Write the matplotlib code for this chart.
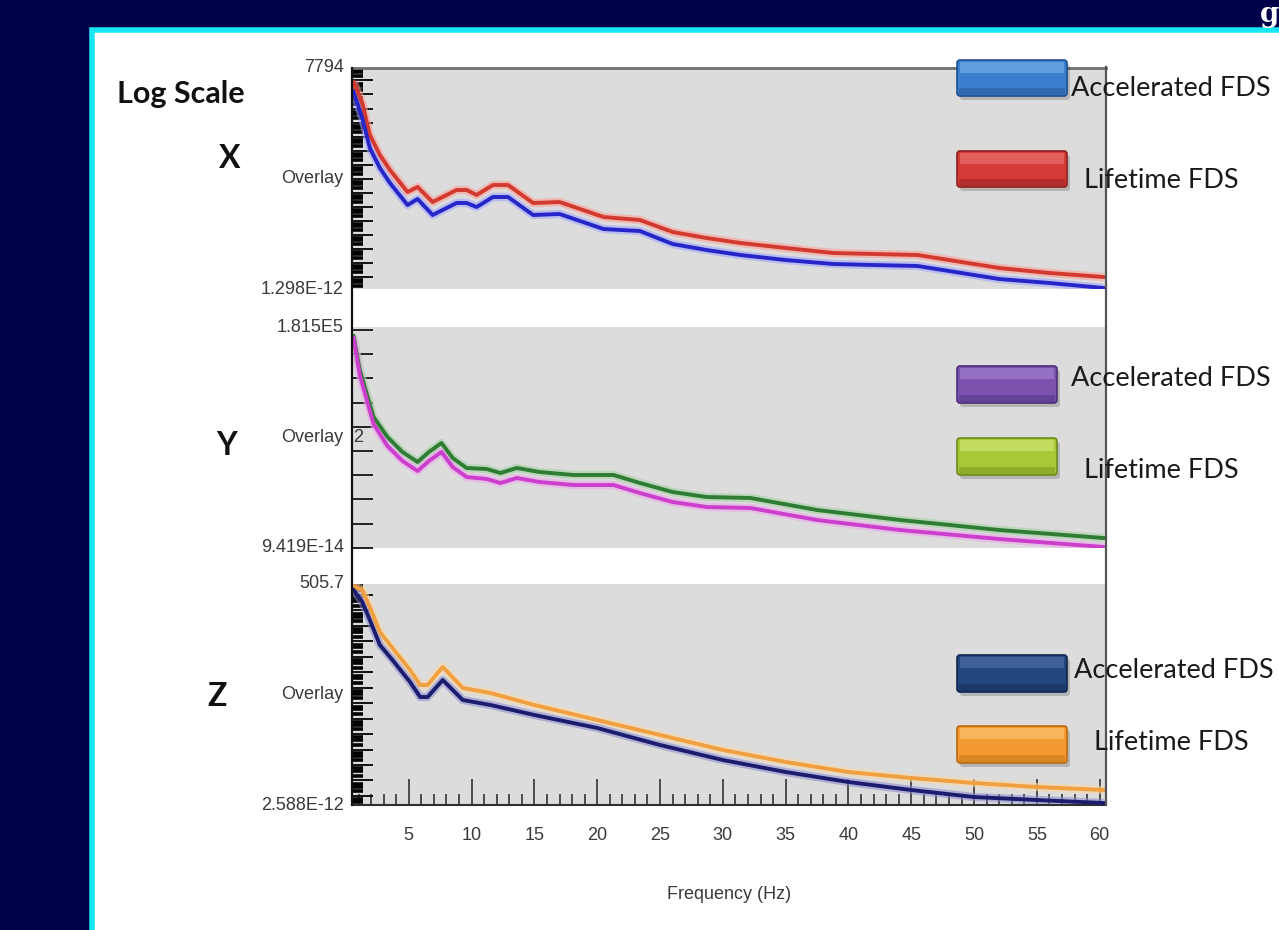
import numpy as np
import matplotlib
matplotlib.use("Agg")
import matplotlib.pyplot as plt
from matplotlib.patches import FancyBboxPatch, Rectangle
from matplotlib.lines import Line2D
from matplotlib.ticker import LogLocator, NullFormatter, MultipleLocator, FixedLocator, NullLocator

# ---------------- data ----------------
freq_x = [0.6, 1.3, 1.9, 2.7, 3.5, 4.9, 5.7, 6.9, 8.8, 9.6, 10.4, 11.7, 12.9, 14.9, 17.0,
          20.5, 23.4, 26.0, 28.7, 31.4, 35.0, 38.8, 42.0, 45.5, 52.0, 56.0, 60.3]
x_lifetime = [780, 24.7, 0.128, 4.79e-3, 4.06e-4, 1.09e-5, 2.48e-5, 2.11e-6, 1.52e-5, 1.52e-5,
              6.67e-6, 3.45e-5, 3.45e-5, 1.79e-6, 2.11e-6, 1.79e-7, 1.09e-7, 1.52e-8, 5.68e-9,
              2.49e-9, 1.10e-9, 4.82e-10, 4.09e-10, 3.47e-10, 4.09e-11, 1.80e-11, 9.31e-12]
x_accel = [150.7, 2.10, 1.51e-2, 5.65e-4, 4.80e-5, 1.29e-6, 3.46e-6, 2.49e-7, 1.79e-6, 1.79e-6,
           9.27e-7, 4.80e-6, 4.80e-6, 2.49e-7, 2.94e-7, 2.49e-8, 1.79e-8, 2.12e-9, 7.89e-10,
           3.47e-10, 1.52e-10, 7.91e-11, 6.70e-11, 5.69e-11, 6.71e-12, 3.48e-12, 1.53e-12]

freq_y = [0.6, 1.1, 2.2, 3.3, 4.5, 5.7, 6.6, 7.6, 8.5, 9.6, 11.2, 12.3, 13.6, 15.4, 18.1,
          21.3, 23.4, 26.0, 28.7, 32.2, 37.5, 44.1, 52.0, 60.3]
y_lifetime = [3.27e4, 50.2, 6.49e-3, 1.44e-4, 8.24e-6, 1.23e-6, 8.24e-6, 4.58e-5, 2.63e-6,
              3.92e-7, 3.24e-7, 1.51e-7, 3.92e-7, 1.83e-7, 1.03e-7, 1.03e-7, 2.25e-8, 4.05e-9,
              1.56e-9, 1.29e-9, 1.31e-10, 1.95e-11, 2.90e-12, 6.32e-13]
y_accel = [2.23e4, 19.4, 1.71e-3, 2.59e-5, 1.49e-6, 2.21e-7, 1.49e-6, 8.24e-6, 4.73e-7,
           7.05e-8, 4.82e-8, 2.25e-8, 5.82e-8, 2.72e-8, 1.53e-8, 1.53e-8, 3.34e-9, 6.01e-10,
           2.32e-10, 1.92e-10, 1.95e-11, 2.90e-12, 5.22e-13, 1.14e-13]

freq_z = [0.6, 1.3, 1.9, 2.7, 3.7, 5.1, 5.9, 6.5, 7.7, 9.3, 11.5, 15, 20, 25, 30, 35, 40,
          45, 50, 55, 60.3]
z_lifetime = [376, 207, 16.5, 0.398, 3.67e-2, 1.39e-3, 1.49e-4, 1.49e-4, 2.17e-3, 9.51e-5,
              4.52e-5, 7.57e-6, 8.11e-7, 8.69e-8, 9.31e-9, 1.56e-9, 3.52e-10, 1.44e-10,
              6.84e-11, 3.77e-11, 2.41e-11]
z_accel = [207, 34.7, 2.38, 5.74e-2, 6.15e-3, 2.32e-4, 2.49e-5, 2.49e-5, 3.13e-4, 1.59e-5,
           7.57e-6, 1.71e-6, 2.47e-7, 1.96e-8, 2.10e-9, 3.52e-10, 7.93e-11, 2.41e-11,
           8.49e-12, 5.43e-12, 3.48e-12]

axis_names = ["X", "Y", "Z"]
y_top_labels = ["7794", "1.815E5", "505.7"]
y_bot_labels = ["1.298E-12", "9.419E-14", "2.588E-12"]
y_limits = [(1.298e-12, 7794), (9.419e-14, 1.815e5), (2.588e-12, 505.7)]
x_ticks = [5, 10, 15, 20, 25, 30, 35, 40, 45, 50, 55, 60]
legend_accel = "Accelerated FDS"
legend_life = "Lifetime FDS"

# ---------------- styling ----------------
W, H = 1279, 930
plt.rcParams["font.family"] = ["Liberation Sans", "DejaVu Sans"]
SLIDE = ["Lato", "DejaVu Sans"]
GREY = "#3a3a3a"

NAVY = "#000048"
fig = plt.figure(figsize=(W / 100, H / 100), dpi=100, facecolor=NAVY)

def fx(px):
    return px / W

def fy(py):
    return 1 - py / H

# background overlay in pixel coordinates
bg = fig.add_axes([0, 0, 1, 1], zorder=0)
bg.set_xlim(0, W); bg.set_ylim(H, 0); bg.axis("off")
bg.add_patch(Rectangle((92, 30), W, H, facecolor="white", edgecolor="#19e6f5", linewidth=4))
bg.text(1260, 1, "g", color="white", fontsize=20, fontweight="bold", family="DejaVu Serif",
        ha="left", va="top")

LEFT, RIGHT = 352, 1106
panels = [(68, 289), (327, 548), (584, 805)]
series = [
    (freq_x, x_accel, x_lifetime, "#2626c8", "#d23a30", "#9aa0ff", "#ff9a90"),
    (freq_y, y_accel, y_lifetime, "#cc3fcc", "#2f7d34", "#f0a0f0", "#9fd09f"),
    (freq_z, z_accel, z_lifetime, "#1c1c6e", "#f0a040", "#8a8ad0", "#ffd8a0"),
]

for i, ((top, bot), (fr, acc, life, ca, cl, ha_, hl)) in enumerate(zip(panels, series)):
    ax = fig.add_axes([fx(LEFT), fy(bot), fx(RIGHT - LEFT), (bot - top) / H], zorder=2)
    ax.set_facecolor("#dcdcdc")
    ax.set_yscale("log")
    ax.set_ylim(*y_limits[i])
    ax.set_xlim(0.48, 60.5)
    for s in ["left", "right", "top", "bottom"]:
        ax.spines[s].set_visible(False)
    if i == 0:
        ax.spines["top"].set_visible(True)
        ax.spines["top"].set_color("#707070")
        ax.spines["top"].set_linewidth(2)
    if i == 2:
        ax.spines["bottom"].set_visible(True)
        ax.spines["bottom"].set_color("#303030")
        ax.spines["bottom"].set_linewidth(1.5)
    # halos + lines
    ax.plot(fr, life, color=hl, lw=6, alpha=0.55, solid_capstyle="butt", zorder=2)
    ax.plot(fr, acc, color=ha_, lw=6, alpha=0.55, solid_capstyle="butt", zorder=2)
    ax.plot(fr, life, color=cl, lw=2.8, zorder=3)
    ax.plot(fr, acc, color=ca, lw=2.8, zorder=3)
    # y ticks
    if i == 1:
        ax.yaxis.set_major_locator(FixedLocator([10.0 ** k for k in range(5, -14, -2)]))
        ax.yaxis.set_minor_locator(NullLocator())
        ax.tick_params(axis="y", which="major", direction="in", length=15, width=1.4,
                       color="#222222", labelleft=False)
    else:
        ax.yaxis.set_major_locator(LogLocator(base=10.0, numticks=40))
        ax.yaxis.set_minor_locator(LogLocator(base=10.0, subs=(2.0, 4.0, 6.0), numticks=40))
        ax.tick_params(axis="y", which="major", direction="in", length=15, width=1.4,
                       color="#111111", labelleft=False)
        ax.tick_params(axis="y", which="minor", direction="in", length=8, width=2.6,
                       color="#000000", labelleft=False)
    ax.yaxis.set_minor_formatter(NullFormatter())
    # x ticks
    if i == 2:
        ax.xaxis.set_major_locator(FixedLocator(x_ticks))
        ax.xaxis.set_minor_locator(MultipleLocator(1))
        ax.set_xticklabels([str(t) for t in x_ticks])
        ax.tick_params(axis="x", which="major", direction="in", length=19, width=1.2,
                       color="#333333", labelsize=13, labelcolor=GREY, pad=16)
        ax.tick_params(axis="x", which="minor", direction="in", length=8, width=1.2,
                       color="#333333")
        ax.set_xlabel("Frequency (Hz)", fontsize=13, color=GREY, labelpad=30)
    else:
        ax.xaxis.set_major_locator(NullLocator())
        ax.xaxis.set_minor_locator(NullLocator())
    # limit labels
    ax.text(-0.011, 1.0, y_top_labels[i], transform=ax.transAxes, ha="right", va="center",
            fontsize=13, color=GREY)
    ax.text(-0.011, 0.0, y_bot_labels[i], transform=ax.transAxes, ha="right", va="center",
            fontsize=13, color=GREY)
    ax.text(-0.011, 0.5, "Overlay", transform=ax.transAxes, ha="right", va="center",
            fontsize=13, color=GREY)
    if i == 1:
        ax.text(0.002, 0.5, "2", transform=ax.transAxes, ha="left", va="center",
                fontsize=13, color=GREY)

# foreground overlay (pixel coords)
fg = fig.add_axes([0, 0, 1, 1], zorder=5)
fg.set_xlim(0, W); fg.set_ylim(H, 0); fg.axis("off"); fg.patch.set_alpha(0)
fg.add_line(Line2D([LEFT, LEFT], [68, 805], color="#111111", lw=1.6))
fg.add_line(Line2D([RIGHT, RIGHT], [67, 805], color="#555555", lw=1.6))

fg.text(117, 94, "Log Scale", fontsize=22, fontweight="bold", color="#111111", ha="left",
        va="center", family=SLIDE)
for name, yc, xc in zip(axis_names, [158, 445, 696], [230, 227, 217]):
    fg.text(xc, yc, name, fontsize=23, fontweight="bold", color="#111111", ha="center",
            va="center", family=SLIDE)

def bevel_box(x, y, w, h, color, dark, light):
    fg.add_patch(FancyBboxPatch((x + 3, y + 4), w, h, boxstyle="round,pad=0,rounding_size=3",
                                facecolor="#000000", alpha=0.18, edgecolor="none"))
    fg.add_patch(FancyBboxPatch((x, y), w, h, boxstyle="round,pad=0,rounding_size=3",
                                facecolor=color, edgecolor=dark, linewidth=1.2))
    fg.add_patch(Rectangle((x + 3, y + 2), w - 6, h * 0.3, facecolor=light, edgecolor="none",
                           alpha=0.55))
    fg.add_patch(Rectangle((x + 2, y + h * 0.78), w - 4, h * 0.2, facecolor=dark,
                           edgecolor="none", alpha=0.45))

boxes = [
    ((957, 60, 110, 36, "#3d7fcf", "#1f4f8f", "#7fb8ef"), (957, 151, 110, 36, "#d43a38", "#8f1f1f", "#f07d78")),
    ((957, 366, 100, 37, "#7b52ad", "#4a2f78", "#ad8ad8"), (957, 438, 100, 37, "#a8c838", "#6f8a1f", "#d8ee80")),
    ((957, 655, 110, 37, "#24467f", "#0f2550", "#5a7ab0"), (957, 726, 110, 37, "#f39a30", "#b86a10", "#ffd080")),
]
text_pos = [((1071, 89), (1084, 180)), ((1071, 378), (1084, 470)), ((1074, 670), (1094, 742))]
for (ba, bl), ((tax, tay), (tlx, tly)) in zip(boxes, text_pos):
    bevel_box(*ba)
    bevel_box(*bl)
    fg.text(tax, tay, legend_accel, fontsize=19.5, color="#1a1a1a", ha="left", va="center",
            family=SLIDE)
    fg.text(tlx, tly, legend_life, fontsize=19.5, color="#1a1a1a", ha="left", va="center",
            family=SLIDE)

fig.savefig("out.png", dpi=100, facecolor=NAVY)
